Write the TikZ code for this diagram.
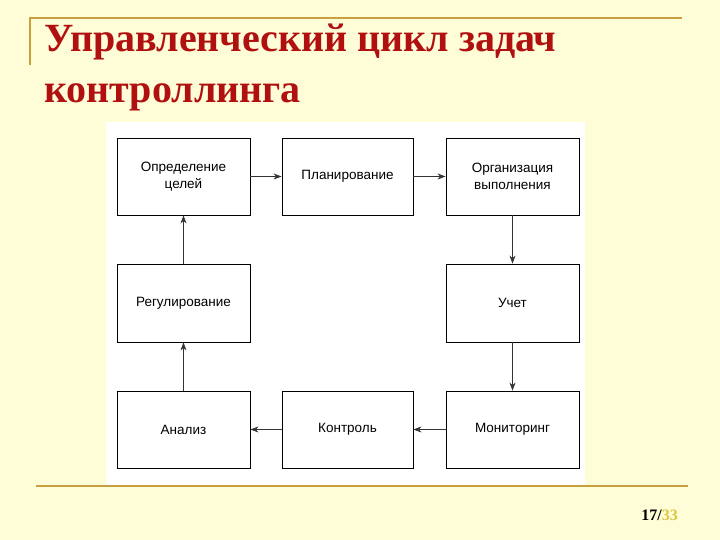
\documentclass[tikz,border=0pt]{standalone}
\usepackage{fontspec}
\setmainfont{Liberation Serif}
\newfontfamily\boxfont{Liberation Sans}
\usetikzlibrary{arrows.meta}
\definecolor{bg}{HTML}{FFFDD8}
\definecolor{gold}{HTML}{C8A040}
\definecolor{titlered}{HTML}{B01010}
\definecolor{numyel}{HTML}{D8C840}
\tikzset{
  box/.style={draw=black, line width=0.9pt, fill=white, minimum width=133pt, minimum height=77pt, align=center, font=\boxfont\fontsize{13.5}{17}\selectfont, inner sep=2pt},
  arr/.style={-{Stealth[length=8pt,width=6pt]}, line width=0.6pt, draw=black!80}
}
\begin{document}
\begin{tikzpicture}[x=1pt,y=-1pt]
\useasboundingbox (0,0) rectangle (720,540);
\fill[bg] (0,0) rectangle (720,540);
\draw[gold, line width=1.5pt] (30,65) -- (30,18) -- (682,18);
\fill[white] (106,122) rectangle (585,485);
\draw[gold, line width=1.5pt] (36,486) -- (688,486);
\node[anchor=base west, text=titlered, font=\bfseries\fontsize{40}{44}\selectfont, inner sep=0] (t1) at (44,52) {Управленческий цикл задач};
\node[anchor=base west, text=titlered, font=\bfseries\fontsize{40}{44}\selectfont, inner sep=0] (t2) at (44,103) {контроллинга};
\node[anchor=base east, font=\bfseries\fontsize{16}{18}\selectfont, inner sep=0] (pg) at (678,520) {17/\textcolor{numyel}{33}};
\node[box] (a) at (183.5,176.5) {Определение\\целей};
\node[box, minimum width=131pt] (b) at (347.5,176.5) {Планирование};
\node[box] (c) at (512.5,176.5) {Организация\\выполнения};
\node[box, minimum height=78pt] (f) at (183.5,303) {Регулирование};
\node[box, minimum height=78pt] (d) at (512.5,303) {Учет};
\node[box] (i) at (183.5,429.5) {Анализ};
\node[box, minimum width=131pt] (h) at (347.5,429.5) {Контроль};
\node[box] (g) at (512.5,429.5) {Мониторинг};
\draw[arr] (a) -- (b);
\draw[arr] (b) -- (c);
\draw[arr] (c) -- (d);
\draw[arr] (d) -- (g);
\draw[arr] (g) -- (h);
\draw[arr] (h) -- (i);
\draw[arr] (i) -- (f);
\draw[arr] (f) -- (a);
\end{tikzpicture}
\end{document}
